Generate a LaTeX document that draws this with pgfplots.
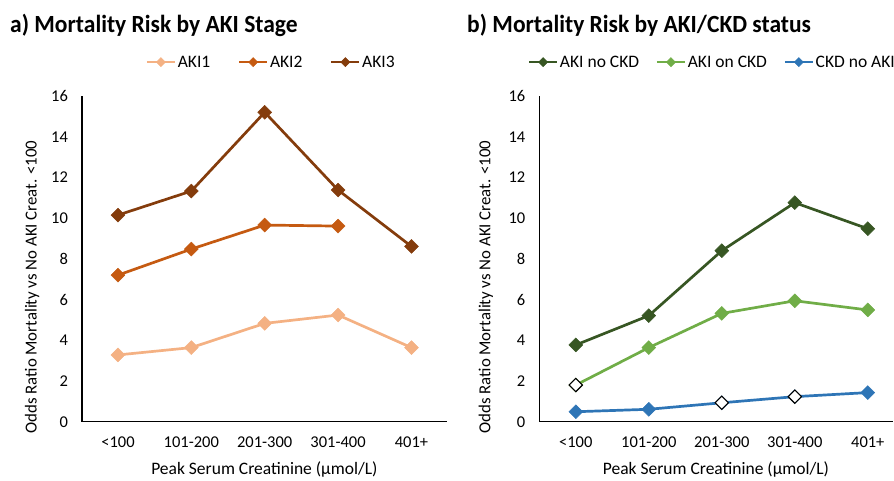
\documentclass[border=0pt]{standalone}
\usepackage{fontspec}
\setmainfont{Carlito}
\usepackage{pgfplots}
\pgfplotsset{compat=1.18}
\definecolor{akia}{HTML}{F4B183}
\definecolor{akib}{HTML}{C55A11}
\definecolor{akic}{HTML}{843C0C}
\definecolor{gdark}{HTML}{375623}
\definecolor{glight}{HTML}{70AD47}
\definecolor{bblue}{HTML}{2E75B6}
\pgfplotsset{
  mystyle/.style={
    scale only axis,
    height=325.7pt,
    ymin=0, ymax=16,
    ytick={0,2,...,16},
    xtick={0,1,2,3,4},
    xticklabels={<100,101-200,201-300,301-400,401+},
    axis x line*=bottom,
    axis y line*=left,
    axis line style={line width=1.3pt, black, -},
    major tick length=0pt,
    /pgf/number format/assume math mode=true,
    tick label style={font=\fontsize{16.5}{18}\selectfont, black},
    yticklabel style={xshift=-10.5pt},
    xticklabel style={yshift=-12pt},
    xlabel={Peak Serum Creatinine (µmol/L)},
    ylabel={Odds Ratio Mortality vs No AKI Creat. <100},
    xlabel style={font=\fontsize{17.5}{19}\selectfont, at={(axis description cs:0.5,0)}, anchor=center, yshift=-48.3pt},
    ylabel style={font=\fontsize{16.8}{18}\selectfont},
    clip=false,
    legend columns=3,
    legend image code/.code={
      \draw[#1, mark repeat=2, mark phase=2, mark size=3.2pt]
        plot coordinates {(0pt,0pt) (14pt,0pt) (28pt,0pt)};},
    legend style={draw=none, fill=none, font=\fontsize{17.5}{19}\selectfont,
      anchor=center, /tikz/every odd column/.append style={column sep=0pt},
      /tikz/every node/.append style={inner xsep=1.5pt}},
    every axis plot/.append style={line width=2.7pt, mark=square*, mark size=4.9pt,
      mark options={rotate=45, solid, line width=0.5pt}},
  },
  openmk/.style={only marks, mark=square*, mark size=4.7pt,
      mark options={rotate=45, fill=white, draw=black, line width=1.1pt}},
}
\begin{document}
\begin{tikzpicture}[x=1pt,y=1pt]
\path[use as bounding box] (0,0) rectangle (894,480);
\node[anchor=west, font=\fontsize{23.5}{26}\selectfont\bfseries, yscale=1.05, inner sep=0pt] at (10,455) {a) Mortality Risk by AKI Stage};
\node[anchor=west, font=\fontsize{23.5}{26}\selectfont\bfseries, yscale=1.05, inner sep=0pt] at (467,455) {b) Mortality Risk by AKI/CKD status};
\begin{axis}[mystyle, at={(82pt,58.3pt)}, anchor=south west, width=364.7pt,
  xmin=-0.49, xmax=4.48,
  ylabel style={at={(axis description cs:-0.137,0.4136)}, anchor=center},
  legend style={at={(axis description cs:0.518,1.104)},
    /tikz/every even column/.append style={column sep=26pt}}]
\addplot[color=akia] coordinates {(0,3.28) (1,3.64) (2,4.83) (3,5.24) (4,3.64)};
\addlegendentry{AKI1}
\addplot[color=akib] coordinates {(0,7.20) (1,8.48) (2,9.66) (3,9.61)};
\addlegendentry{AKI2}
\addplot[color=akic] coordinates {(0,10.15) (1,11.33) (2,15.20) (3,11.38) (4,8.61)};
\addlegendentry{AKI3}
\end{axis}
\begin{axis}[mystyle, at={(539.3pt,58.3pt)}, anchor=south west, width=353.3pt,
  xmin=-0.5, xmax=4.34,
  ylabel style={at={(axis description cs:-0.151,0.4136)}, anchor=center},
  legend style={at={(axis description cs:0.489,1.104)},
    /tikz/every even column/.append style={column sep=15pt}}]
\addplot[color=gdark] coordinates {(0,3.77) (1,5.21) (2,8.40) (3,10.76) (4,9.48)};
\addlegendentry{AKI no CKD}
\addplot[color=glight] coordinates {(0,1.80) (1,3.64) (2,5.32) (3,5.94) (4,5.49)};
\addlegendentry{AKI on CKD}
\addplot[color=bblue] coordinates {(0,0.49) (1,0.61) (2,0.93) (3,1.23) (4,1.43)};
\addlegendentry{CKD no AKI}
\addplot[openmk, forget plot] coordinates {(0,1.80) (2,0.93) (3,1.23)};
\end{axis}
\end{tikzpicture}
\end{document}
